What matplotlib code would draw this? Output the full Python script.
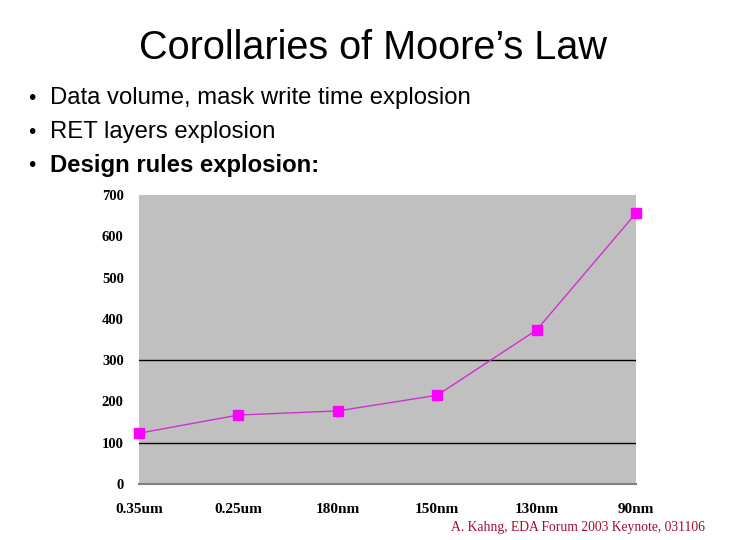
import matplotlib
matplotlib.use("Agg")
import matplotlib.pyplot as plt

categories = ["0.35um", "0.25um", "180nm", "150nm", "130nm", "90nm"]
values = [123, 167, 177, 215, 373, 656]
yticks = [0, 100, 200, 300, 400, 500, 600, 700]
title = "Corollaries of Moore\u2019s Law"
bullets = ["Data volume, mask write time explosion",
           "RET layers explosion",
           "Design rules explosion:"]
citation = "A. Kahng, EDA Forum 2003 Keynote, 031106"

fig = plt.figure(figsize=(7.5, 5.4), dpi=100)
fig.patch.set_facecolor("white")

fig.text(373 / 750, 1 - 48 / 540, title, ha="center", va="center",
         fontsize=28.5, family="Liberation Sans", color="black")
ys = [98, 132, 166]
for i, (b, y) in enumerate(zip(bullets, ys)):
    fig.text(28 / 750, 1 - y / 540, "\u2022", ha="left", va="center",
             fontsize=15, family="Liberation Sans")
    fig.text(50 / 750, 1 - y / 540, b, ha="left", va="center",
             fontsize=17.2, family="Liberation Sans",
             fontweight="bold" if i == 2 else "normal")

ax = fig.add_axes([139 / 750, 1 - 484 / 540, (636 - 139) / 750, (484 - 195) / 540])
ax.set_facecolor("#c0c0c0")
x = list(range(len(categories)))
for g in [100, 300]:
    ax.axhline(g, color="black", lw=1, zorder=1)
ax.plot(x, values, color="#cc33cc", lw=1, marker="s", markersize=7.5,
        markerfacecolor="#ff00ff", markeredgecolor="#ff00ff", zorder=3, clip_on=False)
ax.set_xlim(0, len(categories) - 1)
ax.set_ylim(0, 700)
ax.set_yticks(yticks)
ax.set_yticklabels([str(v) for v in yticks], family="Liberation Serif",
                   fontweight="bold", fontsize=10.5)
ax.set_xticks(x)
ax.set_xticklabels(categories, family="Liberation Serif", fontweight="bold", fontsize=11)
ax.tick_params(axis="y", length=0, pad=11)
ax.tick_params(axis="x", length=0, pad=14)
for s in ["top", "right", "left"]:
    ax.spines[s].set_visible(False)
ax.spines["bottom"].set_color("#808080")
ax.spines["bottom"].set_linewidth(1.5)

fig.text(578 / 750, 1 - 527 / 540, citation, ha="center", va="center",
         fontsize=9.8, family="Liberation Serif", color="#a01030")

fig.savefig("out.png", dpi=100)
